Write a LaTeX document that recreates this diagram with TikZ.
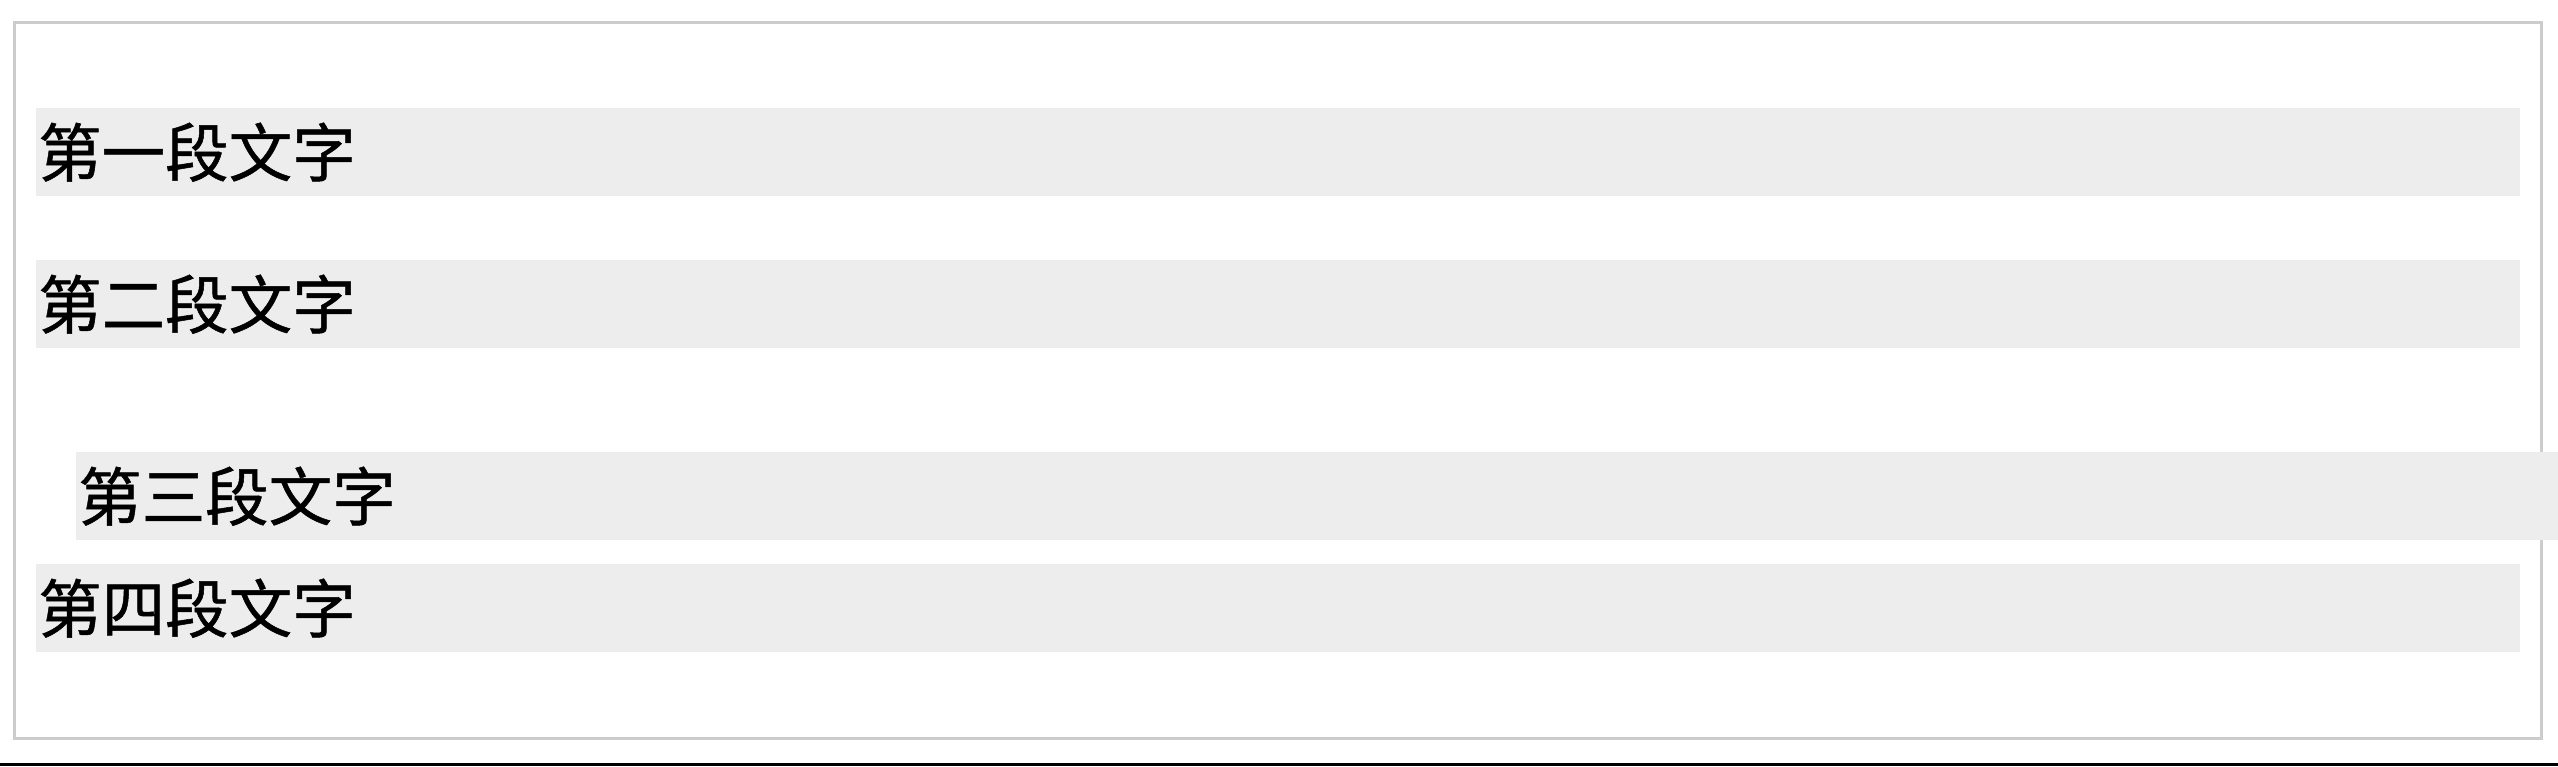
\documentclass[tikz,border=0pt]{standalone}
\usepackage{fontspec}
\newfontfamily\cjk[FakeBold=0.8]{Noto Sans CJK SC}
\definecolor{barfill}{HTML}{EDEDED}
\definecolor{framegray}{HTML}{CCCCCC}
\begin{document}
\begin{tikzpicture}[x=1pt,y=-1pt,
  bar/.style={fill=barfill, draw=none, anchor=north west, minimum height=88pt,
    minimum width=2484pt, text width=2480pt, align=left, inner xsep=2pt, inner ysep=0pt,
    font=\cjk\fontsize{63.5}{70}\selectfont, text=black},
  frame/.style={draw=framegray, line width=3pt}]
\useasboundingbox (0,0) rectangle (2558,766);
\fill[white] (0,0) rectangle (2558,766);
\draw[frame] (14,22) rectangle (2541,738);
\node[bar] (p1) at (36,108) {第一段文字};
\node[bar] (p2) at (36,260) {第二段文字};
\node[bar, minimum width=2482pt, text width=2478pt] (p3) at (76,452) {第三段文字};
\node[bar] (p4) at (36,564) {第四段文字};
\fill[black] (0,763) rectangle (2558,766);
\end{tikzpicture}
\end{document}
